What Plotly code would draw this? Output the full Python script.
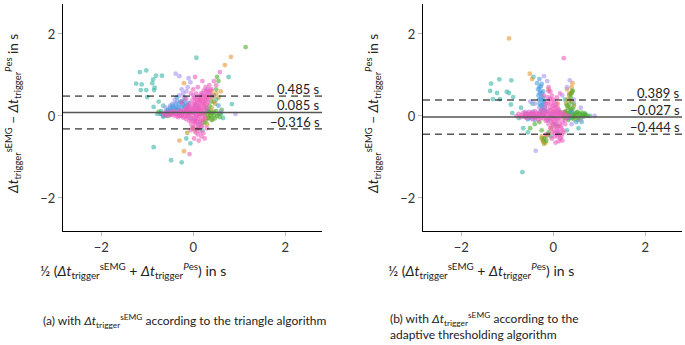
import plotly.graph_objects as go

# ---------------- data ----------------
# Panel (a): triangle algorithm
PINK_A = [(-0.65,0.04),(-0.6,0.08),(-0.58,0.0),(-0.54,0.06),(-0.5,0.1),(-0.48,0.02),(-0.45,0.07),(-0.42,0.12),
          (-0.4,0.0),(-0.37,0.05),(-0.35,0.1),(-0.33,-0.03),(-0.3,0.06),(-0.28,0.14),(-0.26,0.02),(-0.24,0.09),
          (-0.22,-0.04),(-0.2,0.12),(-0.18,0.05),(-0.16,0.18),(-0.15,-0.08),(-0.13,0.1),(-0.12,0.25),(-0.1,0.0),
          (-0.09,0.15),(-0.08,-0.12),(-0.07,0.3),(-0.05,0.08),(-0.04,-0.2),(-0.03,0.2),(-0.02,0.38),(0.0,0.02),
          (0.0,-0.27),(0.01,0.13),(0.02,0.28),(0.03,-0.15),(0.04,0.06),(0.05,0.42),(0.06,-0.05),(0.07,0.2),
          (0.08,-0.32),(0.09,0.33),(0.1,0.1),(0.11,-0.2),(0.12,0.48),(0.13,0.22),(0.14,0.0),(0.15,0.36),
          (0.16,-0.1),(0.17,0.55),(0.18,0.15),(0.19,0.3),(0.2,-0.25),(0.21,0.45),(0.22,0.06),(0.23,0.62),
          (0.24,0.25),(0.25,0.38),(0.26,-0.05),(0.27,0.7),(0.28,0.5),(0.3,0.3),(0.31,0.6),(0.33,0.42),
          (0.35,0.75),(0.37,0.55),(0.4,0.65),(0.42,0.48),(0.45,0.85),(0.5,0.75),(0.58,1.07),
          (0.05,-0.4),(0.1,-0.45),(0.15,-0.38),(0.18,-0.5),(0.22,-0.42),(0.25,-0.55),(0.12,-0.6),(0.3,-0.3),
          (-0.08,-0.93),(0.02,-0.55),(-0.05,-0.35),(-0.05,0.55),(0.0,0.65),(-0.15,0.42),(-0.25,0.32),
          (0.1,0.7),(0.2,0.85),(0.04,0.95)]
PINK_A_CORE = [(-0.25,0.0),(-0.23,0.05),(-0.21,0.1),(-0.19,-0.02),(-0.17,0.12),(-0.14,0.03),(-0.11,0.08),
               (-0.1,0.2),(-0.08,0.05),(-0.06,0.16),(-0.05,-0.08),(-0.03,0.1),(-0.01,0.22),(0.0,0.08),
               (0.01,-0.05),(0.02,0.18),(0.03,0.32),(0.04,-0.1),(0.05,0.14),(0.06,0.27),(0.07,0.02),
               (0.08,0.38),(0.09,0.12),(0.1,-0.08),(0.11,0.25),(0.12,0.4),(0.13,0.05),(0.14,0.3),(0.15,-0.15),
               (0.16,0.2),(0.17,0.42),(0.18,0.08),(0.19,0.5),(0.2,0.18),(0.21,0.35),(0.22,-0.1),(0.23,0.28),
               (0.24,0.5),(0.25,0.15),(0.26,0.4),(0.28,0.6),(0.29,0.2),(0.3,0.48),(0.32,0.35),(0.34,0.55),
               (0.36,0.65),(0.05,-0.2),(0.08,-0.15),(0.12,-0.3),(0.17,-0.25),(0.0,-0.12),(-0.02,-0.3),
               (0.1,0.0),(0.14,0.12),(0.2,0.0),(-0.12,-0.02),(-0.15,0.15),(0.02,0.45),(0.06,0.55),
               (-0.35,0.02),(-0.42,0.05),(-0.5,0.04),(-0.3,0.0),(-0.28,0.08)]
BLUE_A = [(-0.6,0.1),(-0.55,0.15),(-0.52,0.05),(-0.5,0.2),(-0.47,0.12),(-0.45,0.25),(-0.42,0.08),(-0.4,0.18),
          (-0.38,0.3),(-0.35,0.14),(-0.32,0.22),(-0.3,0.05),(-0.28,0.35),(-0.25,0.2),(-0.22,0.28),(-0.2,0.1),
          (-0.18,0.4),(-0.15,0.25),(-0.12,0.15),(-0.1,0.32),(0.05,-0.1),(0.1,0.2),(0.15,-0.2),(0.0,0.1),
          (-0.65,0.0),(-0.7,0.05),(0.3,0.15),(0.55,0.25),(-0.35,0.45),(-0.05,-0.05),
          (-0.48,0.15),(-0.43,0.2),(-0.4,0.1),(-0.37,0.22),(-0.33,0.15),(-0.3,0.28),(-0.27,0.12),(-0.24,0.35),
          (-0.2,0.22),(-0.17,0.3),(-0.14,0.18),(-0.1,0.25),(-0.08,0.1),(-0.53,0.1),(-0.58,0.05)]
PURPLE_A = [(-0.38,1.03),(-0.3,0.97),(-0.1,0.92),(-0.06,0.82),(-0.12,0.7),(-0.3,0.5),(-0.22,0.55),(-0.45,0.3),
            (-0.5,0.25),(-0.4,0.4),(-0.35,0.35),(-0.2,0.45),(-0.15,0.6),(-0.55,0.15),(0.92,0.05),(0.3,0.65),
            (0.2,0.55),(-0.25,0.65),(0.0,0.5),(-0.6,0.2),(0.6,0.1)]
TEAL_A = [(-1.24,0.79),(-1.12,0.77),(-0.89,0.8),(-0.87,0.89),(-1.16,1.07),(-1.02,1.11),(-1.14,0.63),(-1.02,0.63),
          (-0.85,0.63),(-0.84,0.69),(-1.0,0.46),(-0.68,0.98),(-0.81,0.98),(0.07,1.42),(0.77,0.95),(0.84,0.29),
          (-0.86,-0.76),(-0.48,-1.08),(-0.25,-1.13),(-0.06,-0.67),(-0.75,0.35),(-0.86,0.22),(-0.65,-0.02),
          (-0.7,0.12),(-0.78,0.05),(-0.65,0.25),(0.5,0.4),(0.6,0.05),(0.65,-0.05),(-0.15,-0.55),(0.2,-0.35),
          (0.05,0.25),(-0.3,0.1)]
GREEN_A = [(0.3,0.05),(0.33,-0.05),(0.35,0.1),(0.38,0.0),(0.4,-0.1),(0.42,0.08),(0.45,0.02),(0.47,-0.06),
           (0.5,0.12),(0.52,0.0),(0.55,0.05),(0.58,-0.03),(0.6,0.08),(0.35,0.25),(0.4,0.35),(0.45,0.5),
           (0.5,0.65),(0.55,0.85),(0.52,0.95),(-0.6,0.03),(-0.7,0.06),(-0.75,0.1),(-0.55,0.0),(-0.5,0.04),
           (0.25,-0.15),(0.28,0.2),(0.62,0.15),(0.1,-0.3),(1.14,1.68)]
OLIVE_A = [(0.25,0.0),(0.28,-0.1),(0.3,0.1),(0.32,-0.05),(0.35,0.15),(0.37,0.02),(0.4,0.2),(0.42,-0.08),
           (0.45,0.1),(0.3,-0.2),(0.2,-0.18),(0.22,0.08),(-0.13,-0.41),(0.0,-0.3),(0.05,-0.35),(0.4,0.45),
           (0.48,0.3),(0.15,0.05),(0.55,0.45)]
ORANGE_A = [(-0.48,2.79),(0.82,1.44),(0.69,1.24),(-0.2,0.8),(-0.2,-0.86),(0.4,0.6),(0.3,0.45),(0.45,0.35),
            (-0.25,0.35),(0.1,0.15),(0.35,0.1),(-0.3,-0.6),(0.25,0.3),(0.5,0.55),(0.15,0.4),(-0.1,0.05),
            (0.2,-0.1),(0.6,0.6)]

# Panel (b): adaptive thresholding algorithm
PINK_B = [(-0.8,0.0),(-0.75,0.05),(-0.7,-0.03),(-0.65,0.08),(-0.62,0.0),(-0.58,-0.05),(-0.55,0.04),(-0.52,0.1),
          (-0.5,-0.02),(-0.47,0.06),(-0.45,-0.08),(-0.42,0.02),(-0.4,0.12),(-0.38,-0.04),(-0.35,0.05),(-0.32,-0.1),
          (-0.3,0.08),(-0.28,0.0),(-0.25,0.15),(-0.22,-0.06),(-0.2,0.04),(-0.18,0.2),(-0.16,-0.12),(-0.14,0.1),
          (-0.12,0.3),(-0.1,-0.2),(-0.09,0.02),(-0.08,0.4),(-0.06,-0.3),(-0.05,0.15),(-0.04,-0.05),(-0.03,0.5),
          (-0.02,-0.4),(-0.01,0.25),(0.0,0.0),(0.01,-0.15),(0.02,0.35),(0.03,-0.5),(0.04,0.1),(0.05,-0.25),
          (0.06,0.2),(0.07,-0.08),(0.08,-0.35),(0.1,0.05),(0.11,-0.45),(0.12,0.15),(0.14,-0.2),(0.15,-0.55),
          (0.17,0.0),(0.18,-0.3),(0.2,-0.6),(0.22,0.08),(0.23,-0.4),(0.25,-0.1),(0.28,0.02),(0.3,-0.05),
          (-0.1,0.6),(-0.1,0.7),(-0.06,0.6),(-0.2,0.5),(0.23,1.41),(0.15,0.55),(0.08,0.45),(0.05,-0.65),
          (0.12,-0.62),(-0.15,-0.45),(0.35,0.0)]
PINK_B_CORE = [(-0.68,0.02),(-0.63,-0.02),(-0.6,0.06),(-0.56,0.0),(-0.53,0.05),(-0.48,0.0),(-0.44,0.05),
               (-0.41,-0.03),(-0.37,0.08),(-0.34,-0.02),(-0.31,0.03),(-0.27,-0.05),(-0.24,0.06),(-0.21,0.0),
               (-0.19,0.1),(-0.17,-0.03),(-0.15,0.05),(-0.13,-0.1),(-0.11,0.12),(-0.09,-0.05),(-0.07,0.05),
               (-0.05,0.3),(-0.04,-0.15),(-0.02,0.1),(-0.01,-0.25),(0.0,0.18),(0.01,0.05),(0.02,-0.35),
               (0.03,0.25),(0.04,-0.05),(0.05,0.12),(0.06,-0.18),(0.07,0.3),(0.08,0.0),(0.09,-0.28),(0.1,0.2),
               (0.11,-0.1),(0.12,0.05),(0.13,-0.38),(0.14,0.1),(0.15,-0.05),(0.16,-0.25),(0.18,0.05),
               (0.19,-0.45),(0.2,-0.15),(0.21,-0.35),(0.24,0.0),(0.26,-0.2),(-0.08,0.2),(-0.12,0.45),
               (-0.06,0.42),(0.0,0.4),(-0.15,0.3),(0.04,-0.42),(0.09,-0.5),(-0.03,-0.55),(0.17,-0.52),
               (0.02,0.0),(-0.02,-0.08),(0.06,0.08)]
BLUE_B = [(-0.35,0.8),(-0.3,0.7),(-0.28,0.6),(-0.25,0.55),(-0.32,0.5),(-0.22,0.45),(-0.27,0.4),(-0.2,0.35),
          (-0.3,0.3),(-0.24,0.25),(-0.18,0.2),(-0.22,0.15),(-0.15,0.1),(-0.2,0.05),(-0.28,0.1),(-0.55,0.05),
          (-0.5,-0.05),(-0.45,0.1),(-0.4,-0.1),(-0.6,-0.02),(-0.35,0.0),(-0.1,-0.1),(-0.05,0.05),(0.05,-0.2),
          (0.1,0.1),(0.35,-0.05),(0.4,0.1),(0.5,-0.15),(-0.25,0.78),(-0.3,0.9),
          (-0.33,0.65),(-0.29,0.55),(-0.26,0.45),(-0.31,0.4),(-0.23,0.35),(-0.27,0.25),(-0.2,0.28),
          (-0.25,0.15),(-0.18,0.12),(-0.3,0.05),(-0.24,0.05),(-0.22,0.6),(-0.27,0.72),(-0.5,0.02),
          (-0.45,-0.02),(-0.55,-0.08),(-0.42,0.05)]
TEAL_B = [(-1.35,0.79),(-1.17,0.89),(-0.91,0.87),(-1.37,0.61),(-1.22,0.56),(-1.01,0.59),(-0.96,0.56),(-1.31,0.41),
          (-1.16,0.41),(-0.87,0.46),(-0.92,0.28),(-0.89,0.07),(-0.67,-1.37),(-0.7,0.2),(-0.75,-0.05),(-0.65,-0.3),
          (-0.55,-0.4),(0.55,-0.3),(0.62,-0.15),(0.45,0.3),(0.3,-0.35),(-0.05,-0.5),(0.7,0.05),(-0.45,0.3),
          (0.25,0.4),(0.8,0.0),(-0.43,0.95)]
GREEN_B = [(0.2,0.05),(0.25,-0.05),(0.28,0.12),(0.3,0.0),(0.33,-0.1),(0.35,0.08),(0.38,-0.02),(0.4,0.15),
           (0.42,0.03),(0.45,-0.08),(0.48,0.06),(0.5,0.0),(0.53,0.1),(0.55,-0.05),(0.58,0.03),(0.62,0.08),
           (0.66,-0.02),(0.7,0.02),(0.75,0.0),(0.35,0.3),(0.38,0.45),(0.4,0.55),(0.42,0.62),(0.3,0.25),
           (-0.25,-0.35),(-0.2,-0.55),(-0.15,-0.6),(-0.1,-0.4),(-0.4,-0.2),
           (-0.5,-0.3),(-0.6,0.05),(-0.3,-0.15),(0.1,-0.25),(0.15,0.1),
           (0.22,-0.02),(0.26,0.08),(0.31,-0.05),(0.34,0.03),(0.37,0.1),(0.41,-0.05),(0.44,0.05),(0.47,-0.02),
           (0.51,0.08),(0.54,-0.1),(0.57,0.05),(0.6,-0.05),(0.64,0.02),(0.68,0.06),(0.36,0.2),(0.43,0.18)]
OLIVE_B = [(-0.22,-0.6),(-0.2,-0.68),(-0.17,-0.65),(-0.25,-0.55),(-0.15,-0.5),(-0.1,-0.45),(0.3,0.4),(0.35,0.5),
           (0.38,0.55),(0.32,0.2),(0.28,0.3),(0.4,0.35),(0.25,0.1),(0.35,0.0),(0.42,0.6),(0.45,0.25),
           (-0.05,-0.3),(0.0,-0.2)]
ORANGE_B = [(-0.96,1.89),(-0.51,1.03),(-0.46,0.9),(0.42,0.8),(0.35,0.55),(0.3,0.65),(-0.22,-0.62),(-0.25,-0.5),
            (0.1,0.3),(0.38,0.4),(-0.1,0.65),(-0.45,0.05),(0.0,0.1),(0.4,0.7)]
PURPLE_B = [(-0.2,0.97),(-0.13,0.85),(0.36,0.87),(-0.38,-0.85),(0.9,0.0),(0.45,0.4),(0.6,0.2),(-0.5,0.35),
            (-0.4,0.3),(-0.3,0.2),(0.2,0.5),(0.4,-0.2),(0.1,-0.4),(-0.6,0.1),(0.3,0.7),(0.6,-0.1)]

MEAN_A, UPPER_A, LOWER_A = 0.085, 0.485, -0.316
MEAN_B, UPPER_B, LOWER_B = -0.027, 0.389, -0.444
X_TICKS = [-2, 0, 2]
Y_TICKS = [-2, 0, 2]

COLORS = {"teal": "#3cb5a8", "orange": "#e69635", "olive": "#a79a1e", "green": "#4cae2f",
          "purple": "#a992f0", "blue": "#4a9de0", "pink": "#ee5fbf"}

W, H = 685, 345
XR = [-2.83, 2.8]
YR = [-2.805, 2.73]
FONT = "Lato"

fig = go.Figure()

def add_points(series, xa, ya):
    for name, pts in series:
        fig.add_trace(go.Scatter(
            x=[p[0] for p in pts], y=[p[1] for p in pts], mode="markers",
            xaxis=xa, yaxis=ya, showlegend=False, cliponaxis=False,
            marker=dict(size=4.8, color=COLORS[name], opacity=0.6, line=dict(width=0))))

add_points([("teal", TEAL_A), ("orange", ORANGE_A), ("olive", OLIVE_A), ("green", GREEN_A),
            ("purple", PURPLE_A), ("blue", BLUE_A), ("pink", PINK_A + PINK_A_CORE)], "x", "y")
add_points([("teal", TEAL_B), ("orange", ORANGE_B), ("olive", OLIVE_B), ("green", GREEN_B),
            ("purple", PURPLE_B), ("blue", BLUE_B), ("pink", PINK_B + PINK_B_CORE)], "x2", "y2")

def px(v):
    return v / W

def py(v):
    return (H - v) / H

axis_common = dict(range=XR, showline=True, linecolor="black", linewidth=1, ticks="outside",
                   ticklen=4, tickcolor="#bbbbbb", showgrid=False, zeroline=False,
                   tickfont=dict(family=FONT, size=13, color="#333"))
fig.update_layout(
    width=W, height=H, margin=dict(l=0, r=0, t=0, b=0),
    paper_bgcolor="white", plot_bgcolor="white", hovermode=False,
    xaxis=dict(domain=[px(63), px(322)], anchor="y", tickvals=X_TICKS, **axis_common),
    xaxis2=dict(domain=[px(423), px(682)], anchor="y2", tickvals=X_TICKS, **axis_common),
    yaxis=dict(domain=[py(231), py(4)], anchor="x", tickvals=Y_TICKS, **{**axis_common, "range": YR}),
    yaxis2=dict(domain=[py(231), py(4)], anchor="x2", tickvals=Y_TICKS, **{**axis_common, "range": YR}),
)

# axis arrowheads
for xa, ya in (("x", "y"), ("x2", "y2")):
    fig.add_annotation(x=XR[1] + 0.07, y=YR[0], xref=xa, yref=ya, ax=-10, ay=0, text="",
                       showarrow=True, arrowhead=2, arrowsize=1, arrowwidth=1, arrowcolor="black")
    fig.add_annotation(x=XR[0], y=YR[1] + 0.07, xref=xa, yref=ya, ax=0, ay=10, text="",
                       showarrow=True, arrowhead=2, arrowsize=1, arrowwidth=1, arrowcolor="black")

# bias and limits of agreement
for xa, ya, vals in (("x", "y", (UPPER_A, MEAN_A, LOWER_A)), ("x2", "y2", (UPPER_B, MEAN_B, LOWER_B))):
    for i, v in enumerate(vals):
        mean = i == 1
        fig.add_shape(type="line", xref=xa, yref=ya, x0=XR[0], x1=XR[1], y0=v, y1=v,
                      line=dict(color="#555" if mean else "black", width=1.5 if mean else 1,
                                dash="solid" if mean else "7px,5px"))
        fig.add_annotation(x=XR[1], y=v, xref=xa, yref=ya, xanchor="right", yanchor="bottom",
                           yshift=-3, showarrow=False,
                           text=f"{v:.3f} s".replace("-", "\u2212"),
                           font=dict(family=FONT, size=13, color="#222"))

DT = "<i>Δt</i>"
YTITLE = f"{DT}<sub>trigger</sub><sup>sEMG</sup> − {DT}<sub>trigger</sub><sup><i>P</i>es</sup> in s"
XTITLE = f"½ ({DT}<sub>trigger</sub><sup>sEMG</sup> + {DT}<sub>trigger</sub><sup><i>P</i>es</sup>) in s"

for cx in (13, 373):
    fig.add_annotation(x=px(cx), y=py(114), xref="paper", yref="paper", textangle=-90,
                       xanchor="center", yanchor="middle",
                       showarrow=False, text=YTITLE, font=dict(family=FONT, size=13.5, color="#222"))
for cx in (133, 481):
    fig.add_annotation(x=px(cx), y=py(270), xref="paper", yref="paper",
                       xanchor="center", yanchor="middle",
                       showarrow=False, text=XTITLE, font=dict(family=FONT, size=14, color="#222"))

fig.add_annotation(x=px(185), y=py(321), xref="paper", yref="paper", showarrow=False,
                   xanchor="center", yanchor="middle",
                   text=f"(a) with {DT}<sub>trigger</sub><sup>sEMG</sup> according to the triangle algorithm",
                   font=dict(family=FONT, size=12, color="#222"))
fig.add_annotation(x=px(388), y=py(326), xref="paper", yref="paper", showarrow=False,
                   xanchor="left", yanchor="middle", align="left",
                   text=f"(b) with {DT}<sub>trigger</sub><sup>sEMG</sup> according to the<br>adaptive thresholding algorithm",
                   font=dict(family=FONT, size=12, color="#222"))

fig.write_html("out.html", config={"displayModeBar": False},
               post_script="document.body.style.margin='0px';")
